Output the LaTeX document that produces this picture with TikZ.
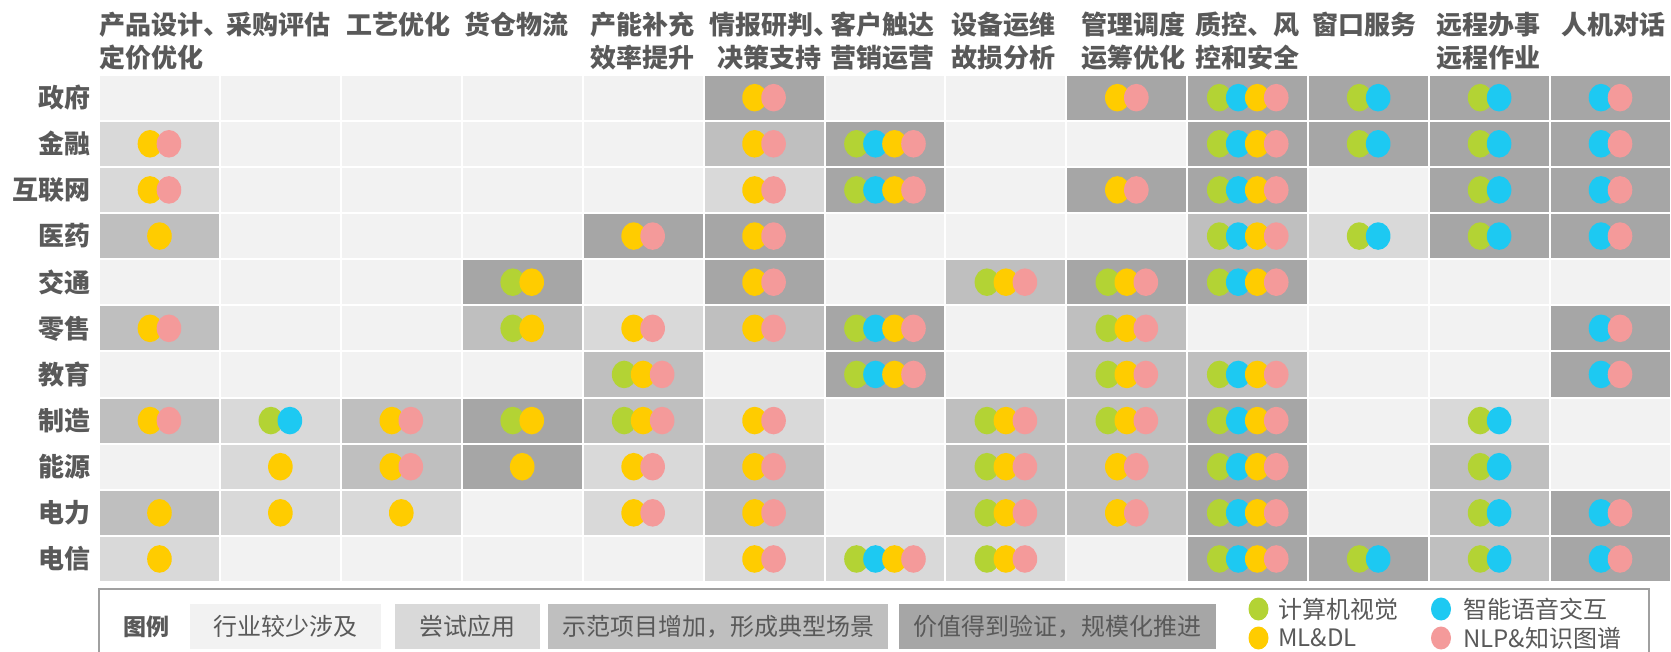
\documentclass[tikz,border=0pt]{standalone}
\usepackage{fontspec}
\setmainfont{Noto Sans CJK SC}
\definecolor{txt}{HTML}{595959}
\definecolor{lv0}{HTML}{F2F2F2}
\definecolor{lv1}{HTML}{D9D9D9}
\definecolor{lv2}{HTML}{BFBFBF}
\definecolor{lv3}{HTML}{A6A6A6}
\definecolor{dG}{HTML}{B3D334}
\definecolor{dC}{HTML}{1DC9F2}
\definecolor{dY}{HTML}{FFCC00}
\definecolor{dP}{HTML}{F49A9A}
\definecolor{lgb}{HTML}{A0A0A0}
\newcommand\zzdot[2]{\fill[#2] ({\zcx+#1*19},\zcy) ellipse [x radius=12.3, y radius=13.8];}
\def\zzN{}
\def\zzY{\zzdot{0}{dY}}
\def\zzYP{\zzdot{-0.5}{dY}\zzdot{0.5}{dP}}
\def\zzGC{\zzdot{-0.5}{dG}\zzdot{0.5}{dC}}
\def\zzCP{\zzdot{-0.5}{dC}\zzdot{0.5}{dP}}
\def\zzGY{\zzdot{-0.5}{dG}\zzdot{0.5}{dY}}
\def\zzGYP{\zzdot{-1}{dG}\zzdot{0}{dY}\zzdot{1}{dP}}
\def\zzGCYP{\zzdot{-1.5}{dG}\zzdot{-0.5}{dC}\zzdot{0.5}{dY}\zzdot{1.5}{dP}}
\tikzset{
  head/.style={anchor=west, inner sep=0pt, text=txt, font=\bfseries\fontsize{26}{30}\selectfont},
  rowlab/.style={anchor=east, inner sep=0pt, text=txt, font=\bfseries\fontsize{26}{30}\selectfont},
  lgbox/.style={inner sep=0pt, minimum height=45, text=txt, font=\fontsize{24}{28}\selectfont},
  lgtext/.style={anchor=west, inner sep=0pt, text=txt, font=\fontsize{24}{28}\selectfont},
}
\begin{document}
\begin{tikzpicture}[x=1pt,y=-1pt]
\useasboundingbox (0,0) rectangle (1671,652);
% grid
\foreach \rw [count=\j] in {
 {0/N,0/N,0/N,0/N,0/N,3/YP,0/N,0/N,3/YP,3/GCYP,3/GC,3/GC,3/CP},
 {1/YP,0/N,0/N,0/N,0/N,2/YP,3/GCYP,0/N,0/N,3/GCYP,3/GC,3/GC,3/CP},
 {1/YP,0/N,0/N,0/N,0/N,1/YP,3/GCYP,0/N,3/YP,3/GCYP,0/N,3/GC,3/CP},
 {2/Y,0/N,0/N,0/N,3/YP,3/YP,0/N,0/N,0/N,2/GCYP,1/GC,3/GC,3/CP},
 {0/N,0/N,0/N,3/GY,0/N,3/YP,0/N,2/GYP,3/GYP,3/GCYP,0/N,0/N,0/N},
 {2/YP,0/N,0/N,2/GY,1/YP,2/YP,3/GCYP,0/N,2/GYP,0/N,0/N,0/N,3/CP},
 {0/N,0/N,0/N,0/N,2/GYP,0/N,3/GCYP,0/N,2/GYP,2/GCYP,0/N,0/N,3/CP},
 {2/YP,1/GC,2/YP,3/GY,2/GYP,1/YP,0/N,2/GYP,2/GYP,3/GCYP,0/N,1/GC,0/N},
 {0/N,1/Y,2/YP,3/Y,1/YP,2/YP,0/N,2/GYP,2/YP,3/GCYP,0/N,2/GC,0/N},
 {2/Y,1/Y,1/Y,0/N,1/YP,2/YP,0/N,2/GYP,2/YP,3/GCYP,0/N,2/GC,3/CP},
 {1/Y,0/N,0/N,0/N,0/N,1/YP,1/GCYP,1/GYP,0/N,3/GCYP,3/GC,2/GC,3/CP}} {
  \foreach \lv/\cb [count=\i] in \rw {
    \pgfmathsetmacro\zcx{99+(\i-0.5)*120.92}
    \pgfmathsetmacro\zcy{74.6+(\j-0.5)*46.13}
    \fill[lv\lv] ({99+(\i-1)*120.92+1},{74.6+(\j-1)*46.13+1}) rectangle ++(118.92,44.13);
    \csname zz\cb\endcsname
  }
}
% row labels
\foreach \lab [count=\j] in {政府,金融,互联网,医药,交通,零售,教育,制造,能源,电力,电信}
  \node[rowlab] (r\j) at (90.5,{74.6+(\j-0.5)*46.13}) {\lab};
% headers
\node[head] (h1)  at (99.5,25) {产品设计、};
\node[head] (h1b) at (99.5,58) {定价优化};
\node[head] (h2)  at (226.5,25) {采购评估};
\node[head] (h3)  at (346.5,25) {工艺优化};
\node[head] (h4)  at (464.5,25) {货仓物流};
\node[head] (h5)  at (590.5,25) {产能补充};
\node[head] (h5b) at (590.5,58) {效率提升};
\node[head] (h6)  at (709.5,25) {情报研判、};
\node[head] (h6b) at (717,58) {决策支持};
\node[head] (h7)  at (830.5,25) {客户触达};
\node[head] (h7b) at (830.5,58) {营销运营};
\node[head] (h8)  at (951.5,25) {设备运维};
\node[head] (h8b) at (951.5,58) {故损分析};
\node[head] (h9)  at (1081.5,25) {管理调度};
\node[head] (h9b) at (1081.5,58) {运筹优化};
\node[head] (h10) at (1195.5,25) {质控、风};
\node[head] (h10b) at (1195.5,58) {控和安全};
\node[head] (h11) at (1312.5,25) {窗口服务};
\node[head] (h12) at (1436,25) {远程办事};
\node[head] (h12b) at (1436,58) {远程作业};
\node[head] (h13) at (1561.5,25) {人机对话};
% legend
\draw[draw=lgb, line width=1.5pt, fill=white] (99,589) rectangle (1649,665);
\node[inner sep=0pt, text=txt, font=\bfseries\fontsize{23}{27}\selectfont] (lgt) at (146,626.5) {图例};
\node[lgbox, fill=lv0, minimum width=191] (l0) at (285.5,626.5) {行业较少涉及};
\node[lgbox, fill=lv1, minimum width=145] (l1) at (467.5,626.5) {尝试应用};
\node[lgbox, fill=lv2, minimum width=340] (l2) at (718,626.5) {示范项目增加，形成典型场景};
\node[lgbox, fill=lv3, minimum width=317] (l3) at (1057.5,626.5) {价值得到验证，规模化推进};
\fill[dG] (1258.5,609) ellipse [x radius=10, y radius=11.5];
\fill[dY] (1258.5,638) ellipse [x radius=10, y radius=11.5];
\fill[dC] (1441,609) ellipse [x radius=10, y radius=11.5];
\fill[dP] (1441,638) ellipse [x radius=10, y radius=11.5];
\node[lgtext] (kG) at (1278,609) {计算机视觉};
\node[lgtext] (kY) at (1278,638) {ML\&DL};
\node[lgtext] (kC) at (1463,609) {智能语音交互};
\node[lgtext] (kP) at (1463,638) {NLP\&知识图谱};
\end{tikzpicture}
\end{document}
